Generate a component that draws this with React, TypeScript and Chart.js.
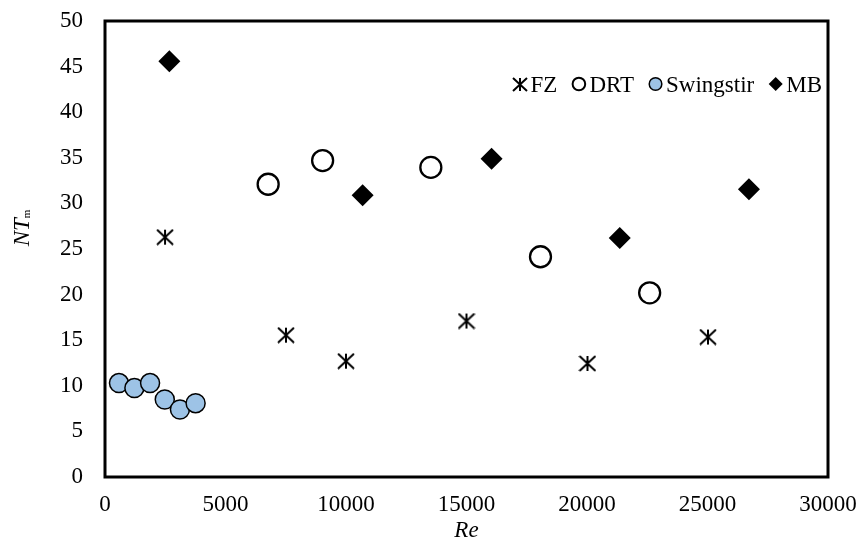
import React, { useEffect, useRef } from 'react';
import { Chart, registerables } from 'chart.js';

Chart.register(...registerables);

// ---- data ----
const seriesNames = ['FZ', 'DRT', 'Swingstir', 'MB'];
const fzRe = [2490, 7510, 10000, 15000, 20020, 25020];
const fzNT = [26.3, 15.55, 12.7, 17.1, 12.45, 15.35];
const drtRe = [6770, 9030, 13520, 18070, 22600];
const drtNT = [32.1, 34.7, 33.95, 24.15, 20.2];
const swRe = [580, 1220, 1870, 2480, 3110, 3760];
const swNT = [10.3, 9.75, 10.3, 8.5, 7.4, 8.1];
const mbRe = [2670, 10690, 16040, 21360, 26720];
const mbNT = [45.6, 30.9, 34.9, 26.2, 31.55];
const xTickValues = [0, 5000, 10000, 15000, 20000, 25000, 30000];
const yTickValues = [0, 5, 10, 15, 20, 25, 30, 35, 40, 45, 50];
const xTitle = 'Re';
const yTitleMain = 'NT';
const yTitleSub = 'm';

const FONT = '"Liberation Serif", "Times New Roman", serif';

function makeAsterisk(w: number, h: number, lw: number): HTMLCanvasElement {
  const c = document.createElement('canvas');
  c.width = Math.ceil(w + 2);
  c.height = Math.ceil(h + 2);
  const g = c.getContext('2d')!;
  g.strokeStyle = '#000';
  g.lineWidth = lw;
  const cx = c.width / 2;
  const cy = c.height / 2;
  g.beginPath();
  g.moveTo(cx, cy - h / 2);
  g.lineTo(cx, cy + h / 2);
  g.moveTo(cx - w / 2, cy - h / 2);
  g.lineTo(cx + w / 2, cy + h / 2);
  g.moveTo(cx + w / 2, cy - h / 2);
  g.lineTo(cx - w / 2, cy + h / 2);
  g.stroke();
  return c;
}

function zip(xs: number[], ys: number[]) {
  return xs.map((x, i) => ({ x, y: ys[i] }));
}

export default function App() {
  const ref = useRef<HTMLCanvasElement | null>(null);

  useEffect(() => {
    if (!ref.current) return;
    const asterisk = makeAsterisk(16, 15, 2);
    const asteriskLegend = makeAsterisk(14, 13, 2);

    const legendStyles: any[] = [
      { kind: 'image', img: asteriskLegend },
      { kind: 'circle', fill: '#ffffff', stroke: '#000', lw: 2 },
      { kind: 'circle', fill: '#9DC3E6', stroke: '#000', lw: 1.5 },
      { kind: 'diamond', fill: '#000' },
    ];

    const framePlugin = {
      id: 'frame',
      beforeDatasetsDraw(chart: any) {
        const { ctx, chartArea: a } = chart;
        ctx.save();
        ctx.strokeStyle = '#000';
        ctx.lineWidth = 3;
        ctx.strokeRect(a.left, a.top, a.right - a.left, a.bottom - a.top);
        ctx.restore();
      },
    };

    const titlesPlugin = {
      id: 'titles',
      afterDraw(chart: any) {
        const { ctx, chartArea: a } = chart;
        ctx.save();
        ctx.fillStyle = '#000';
        // x title
        ctx.font = `italic 23px ${FONT}`;
        ctx.textAlign = 'center';
        ctx.textBaseline = 'alphabetic';
        ctx.fillText(xTitle, (a.left + a.right) / 2, a.bottom + 60);
        // y title (rotated, with subscript)
        ctx.font = `italic 23px ${FONT}`;
        const wMain = ctx.measureText(yTitleMain).width;
        ctx.font = `11px ${FONT}`;
        const wSub = ctx.measureText(yTitleSub).width;
        const total = wMain + wSub;
        const cy = (a.top + a.bottom) / 2 - 21;
        ctx.translate(29, cy);
        ctx.rotate(-Math.PI / 2);
        ctx.textAlign = 'left';
        ctx.font = `italic 23px ${FONT}`;
        ctx.fillText(yTitleMain, -total / 2, 0);
        ctx.font = `11px ${FONT}`;
        ctx.fillText(yTitleSub, -total / 2 + wMain, 1);
        ctx.restore();
      },
    };

    const legendPlugin = {
      id: 'customLegend',
      afterDraw(chart: any) {
        const { ctx, chartArea: a } = chart;
        ctx.save();
        ctx.font = `23px ${FONT}`;
        const markerW = 15;
        const gap = 3;
        const spacing = 14;
        const names = chart.data.datasets.map((d: any) => d.label);
        const widths = names.map((n: string) => ctx.measureText(n).width);
        const total =
          widths.reduce((s: number, w: number) => s + w + markerW + gap, 0) +
          spacing * (names.length - 1);
        let x = a.right - 6 - total;
        const cy = a.top + 63;
        const base = a.top + 71;
        names.forEach((n: string, i: number) => {
          const st = legendStyles[i];
          const mx = x + markerW / 2;
          if (st.kind === 'image') {
            ctx.drawImage(st.img, Math.round(mx - st.img.width / 2), Math.round(cy - st.img.height / 2));
          } else if (st.kind === 'circle') {
            ctx.beginPath();
            ctx.arc(mx, cy, 6.3, 0, Math.PI * 2);
            ctx.fillStyle = st.fill;
            ctx.fill();
            ctx.lineWidth = st.lw;
            ctx.strokeStyle = st.stroke;
            ctx.stroke();
          } else {
            const r = 7;
            ctx.beginPath();
            ctx.moveTo(mx, cy - r);
            ctx.lineTo(mx + r, cy);
            ctx.lineTo(mx, cy + r);
            ctx.lineTo(mx - r, cy);
            ctx.closePath();
            ctx.fillStyle = st.fill;
            ctx.fill();
          }
          ctx.fillStyle = '#000';
          ctx.textAlign = 'left';
          ctx.textBaseline = 'alphabetic';
          ctx.fillText(n, x + markerW + gap, base);
          x += markerW + gap + widths[i] + spacing;
        });
        ctx.restore();
      },
    };

    const chart = new Chart(ref.current, {
      type: 'scatter',
      data: {
        datasets: [
          {
            label: seriesNames[0],
            data: zip(fzRe, fzNT),
            pointStyle: asterisk as any,
            pointRadius: 8,
            order: 4,
          },
          {
            label: seriesNames[1],
            data: zip(drtRe, drtNT),
            pointStyle: 'circle',
            pointRadius: 10.5,
            backgroundColor: '#ffffff',
            borderColor: '#000000',
            borderWidth: 2.3,
            order: 3,
          },
          {
            label: seriesNames[2],
            data: zip(swRe, swNT),
            pointStyle: 'circle',
            pointRadius: 9.5,
            backgroundColor: '#9DC3E6',
            borderColor: '#000000',
            borderWidth: 1.5,
            order: 2,
          },
          {
            label: seriesNames[3],
            data: zip(mbRe, mbNT),
            pointStyle: 'rectRot',
            pointRadius: 11,
            backgroundColor: '#000000',
            borderColor: '#000000',
            borderWidth: 0,
            order: 1,
          },
        ],
      },
      options: {
        animation: false,
        responsive: false,
        events: [],
        layout: { autoPadding: false, padding: { left: 0, top: 21, right: 31, bottom: 0 } },
        plugins: {
          legend: { display: false },
          tooltip: { enabled: false },
          title: { display: false },
        },
        scales: {
          x: {
            type: 'linear',
            min: xTickValues[0],
            max: xTickValues[xTickValues.length - 1],
            afterFit: (s: any) => {
              s.height = 67;
              s.paddingLeft = 0;
              s.paddingRight = 0;
              s.paddingTop = 0;
              s.paddingBottom = 0;
            },
            afterBuildTicks: (s: any) => {
              s.ticks = xTickValues.map((v) => ({ value: v }));
            },
            grid: { display: false, drawTicks: false },
            border: { display: false },
            ticks: {
              padding: 14,
              color: '#000',
              font: { family: FONT, size: 23 },
              maxRotation: 0,
              autoSkip: false,
              callback: (v: any) => String(v),
            },
          },
          y: {
            type: 'linear',
            min: yTickValues[0],
            max: yTickValues[yTickValues.length - 1],
            afterFit: (s: any) => {
              s.width = 105;
              s.paddingLeft = 0;
              s.paddingRight = 0;
              s.paddingTop = 0;
              s.paddingBottom = 0;
            },
            afterBuildTicks: (s: any) => {
              s.ticks = yTickValues.map((v) => ({ value: v }));
            },
            grid: { display: false, drawTicks: false },
            border: { display: false },
            ticks: {
              padding: 22,
              color: '#000',
              font: { family: FONT, size: 23 },
              autoSkip: false,
              callback: (v: any) => String(v),
            },
          },
        },
      },
      plugins: [framePlugin, titlesPlugin, legendPlugin],
    });
    return () => chart.destroy();
  }, []);

  return (
    <div style={{ position: 'absolute', left: 0, top: 0, width: 859, height: 544, background: '#fff' }}>
      <canvas ref={ref} width={859} height={544} style={{ width: 859, height: 544 }} />
    </div>
  );
}
